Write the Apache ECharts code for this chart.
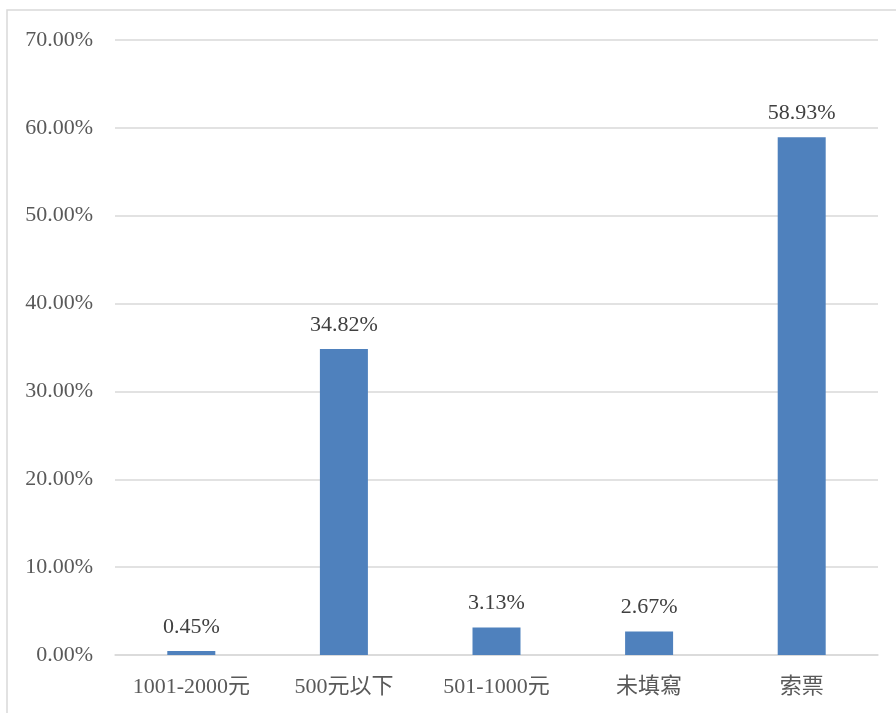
<!DOCTYPE html>
<html>
<head>
<meta charset="utf-8">
<script src="https://cdn.jsdelivr.net/npm/echarts@6/dist/echarts.min.js"></script>
<style>
html,body{margin:0;padding:0;background:#fff;}
#chart{width:896px;height:713px;}
</style>
</head>
<body>
<div id="chart"></div>
<script>
const categories = ['1001-2000元', '500元以下', '501-1000元', '未填寫', '索票'];
const values = [0.45, 34.82, 3.13, 2.67, 58.93];
const yTicks = [0, 10, 20, 30, 40, 50, 60, 70];

const fontFam = '"Liberation Serif", "Noto Sans CJK TC", serif';
const chart = echarts.init(document.getElementById('chart'));
chart.setOption({
  animation: false,
  backgroundColor: '#fff',
  graphic: [{
    type: 'rect',
    shape: { x: 7, y: 10, width: 950, height: 760 },
    style: { fill: 'none', stroke: '#d9d9d9', lineWidth: 1.5 },
    silent: true, z: -1
  }],
  grid: { left: 115, right: 18, top: 40, bottom: 58, containLabel: false },
  xAxis: {
    type: 'category',
    data: categories,
    axisLine: { show: true, lineStyle: { color: '#d9d9d9', width: 1.5 } },
    axisTick: { show: false },
    axisLabel: { color: '#595959', fontSize: 22, fontFamily: fontFam, margin: 21 }
  },
  yAxis: {
    type: 'value',
    min: yTicks[0],
    max: yTicks[yTicks.length - 1],
    interval: 10,
    axisLine: { show: false },
    axisTick: { show: false },
    splitLine: { lineStyle: { color: '#d9d9d9', width: 1.5 } },
    axisLabel: {
      color: '#595959', fontSize: 22, fontFamily: fontFam, margin: 22,
      formatter: v => v.toFixed(2) + '%'
    }
  },
  series: [{
    type: 'bar',
    data: values,
    barWidth: 48,
    itemStyle: { color: '#4f81bd' },
    label: {
      show: true, position: 'top', distance: 13,
      color: '#404040', fontSize: 22, fontFamily: fontFam,
      formatter: p => p.value.toFixed(2) + '%'
    }
  }]
});
</script>
</body>
</html>
